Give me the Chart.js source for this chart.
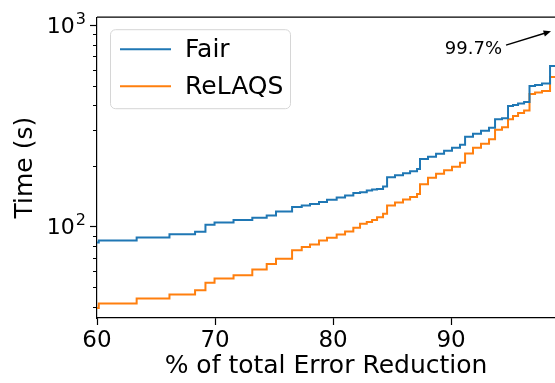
<!DOCTYPE html>
<html>
<head>
<meta charset="utf-8">
<script src="https://cdn.jsdelivr.net/npm/chart.js@4"></script>
<style>
  html, body { margin: 0; padding: 0; background: #fff; }
  canvas { display: block; }
</style>
</head>
<body>
<canvas id="chart" width="555" height="383"></canvas>
<script>
// % of total error reduction where each step starts
const errorReduction = [
  60.00, 60.15, 63.36, 66.14, 68.31, 69.19, 69.96, 71.57, 73.16, 74.38,
  75.17, 76.53, 77.35, 78.05, 78.81, 79.49, 80.31, 81.02, 81.72, 82.29,
  82.86, 83.31, 83.73, 84.24, 84.58, 85.25, 85.93, 86.53, 87.12, 87.37,
  88.05, 88.73, 89.41, 90.08, 90.76, 91.19, 91.86, 92.54, 93.22, 93.73,
  94.32, 94.83, 95.25, 95.68, 96.19, 96.65, 97.12, 97.71, 98.39, 98.90
];
// time (s)
const fairTime = [
  83.3, 85.2, 88.2, 91.6, 94.1, 102.0, 104.7, 107.7, 110.4, 113.4,
  118.7, 124.9, 127.0, 129.2, 132.5, 135.6, 139.2, 142.4, 146.5, 147.9,
  150.8, 152.5, 153.7, 157.8, 175.4, 179.9, 184.1, 188.3, 193.1, 216.3,
  222.1, 229.8, 237.8, 246.1, 254.7, 279.0, 288.7, 298.7, 309.1, 340.6,
  344.5, 397.2, 401.8, 408.7, 415.8, 498.9, 504.7, 513.4, 626.6, 633.9
];
const relaqsTime = [
  39.3, 41.4, 43.9, 45.9, 48.2, 52.5, 55.1, 57.2, 61.2, 65.1,
  69.1, 76.1, 79.0, 81.4, 85.2, 87.9, 91.3, 94.4, 98.5, 103.1,
  105.3, 107.7, 111.2, 115.6, 127.0, 131.5, 136.1, 140.0, 145.2, 162.3,
  174.8, 183.0, 190.4, 198.2, 207.4, 230.6, 246.1, 257.6, 271.2, 302.1,
  310.9, 340.6, 354.4, 366.7, 377.4, 455.3, 463.2, 471.2, 552.8, 559.1
];

const xTickValues = [60, 70, 80, 90];
const yTickValues = [40, 50, 60, 70, 80, 90, 100, 200, 300, 400, 500, 600, 700, 800, 900, 1000];
// labelled decades: base and exponent
const yTickExponents = { 100: "2", 1000: "3" };

// annotation: text position and arrow, in data units
const note = { text: "99.7%", x: 91.9, y: 760, fromX: 94.66, fromY: 796, toX: 98.47, toY: 933 };

const FONT = "'DejaVu Sans', sans-serif";

const frame = {
  id: "frame",
  afterDraw(chart) {
    const { ctx, chartArea: a, scales } = chart;
    ctx.save();
    ctx.strokeStyle = "#000";
    ctx.lineWidth = 1.2;
    ctx.beginPath();
    ctx.moveTo(a.left, a.top);
    ctx.lineTo(a.right, a.top);
    ctx.stroke();
    // minor ticks on log axis are shorter
    ctx.lineWidth = 1;
    const y = scales.y;
    y.ticks.forEach(t => {
      if (yTickExponents[t.value]) return;
      const py = Math.round(y.getPixelForValue(t.value)) + 0.5;
      ctx.beginPath();
      ctx.moveTo(a.left, py);
      ctx.lineTo(a.left - 4, py);
      ctx.stroke();
    });
    // decade labels as 10^n with a real superscript
    ctx.fillStyle = "#000";
    ctx.textBaseline = "alphabetic";
    ctx.textAlign = "right";
    y.ticks.forEach(t => {
      const exp = yTickExponents[t.value];
      if (!exp) return;
      const py = y.getPixelForValue(t.value);
      const right = a.left - 11;
      ctx.font = "16px " + FONT;
      const ew = ctx.measureText(exp).width;
      ctx.fillText(exp, right, py - 1);
      ctx.font = "22px " + FONT;
      ctx.fillText("10", right - ew - 1, py + 8);
    });
    ctx.restore();
  }
};

const legendBox = {
  id: "legendBox",
  afterDatasetsDraw(chart) {
    const { ctx, chartArea: a } = chart;
    const x0 = a.left + 13, y0 = a.top + 12, w = 180, h = 79;
    ctx.save();
    ctx.beginPath();
    ctx.roundRect(x0 + 0.5, y0 + 0.5, w, h, 5);
    ctx.fillStyle = "rgba(255,255,255,0.8)";
    ctx.fill();
    ctx.strokeStyle = "#d6d6d6";
    ctx.lineWidth = 1;
    ctx.stroke();
    ctx.font = "25px " + FONT;
    ctx.textBaseline = "middle";
    chart.data.datasets.forEach((ds, i) => {
      const ry = y0 + 20 + i * 37;
      ctx.strokeStyle = ds.borderColor;
      ctx.lineWidth = 2;
      ctx.beginPath();
      ctx.moveTo(x0 + 10, ry);
      ctx.lineTo(x0 + 61, ry);
      ctx.stroke();
      ctx.fillStyle = "#000";
      ctx.fillText(ds.label, x0 + 75, ry + 1);
    });
    ctx.restore();
  }
};

const arrowNote = {
  id: "arrowNote",
  afterDatasetsDraw(chart) {
    const { ctx, scales: { x, y } } = chart;
    ctx.save();
    ctx.font = "18px " + FONT;
    ctx.fillStyle = "#000";
    ctx.textAlign = "center";
    ctx.textBaseline = "middle";
    ctx.fillText(note.text, x.getPixelForValue(note.x), y.getPixelForValue(note.y));

    const x1 = x.getPixelForValue(note.fromX), y1 = y.getPixelForValue(note.fromY);
    const x2 = x.getPixelForValue(note.toX), y2 = y.getPixelForValue(note.toY);
    const ang = Math.atan2(y2 - y1, x2 - x1);
    ctx.strokeStyle = "#000";
    ctx.lineWidth = 1.5;
    ctx.beginPath();
    ctx.moveTo(x1, y1);
    ctx.lineTo(x2 - 5 * Math.cos(ang), y2 - 5 * Math.sin(ang));
    ctx.stroke();
    ctx.beginPath();
    ctx.moveTo(x2, y2);
    ctx.lineTo(x2 - 8 * Math.cos(ang - 0.4), y2 - 8 * Math.sin(ang - 0.4));
    ctx.lineTo(x2 - 8 * Math.cos(ang + 0.4), y2 - 8 * Math.sin(ang + 0.4));
    ctx.closePath();
    ctx.fill();
    ctx.restore();
  }
};

const toPoints = ys => errorReduction.map((v, i) => ({ x: v, y: ys[i] }));

new Chart(document.getElementById("chart"), {
  type: "line",
  data: {
    datasets: [
      {
        label: "Fair",
        data: toPoints(fairTime),
        borderColor: "#1f77b4",
        borderWidth: 2,
        stepped: true,
        pointRadius: 0,
        fill: false,
      },
      {
        label: "ReLAQS",
        data: toPoints(relaqsTime),
        borderColor: "#ff7f0e",
        borderWidth: 2,
        stepped: true,
        pointRadius: 0,
        fill: false,
      },
    ],
  },
  options: {
    responsive: false,
    animation: false,
    devicePixelRatio: 1,
    layout: { padding: { top: 16, right: 0, bottom: 0, left: 0 } },
    plugins: {
      legend: { display: false },
      tooltip: { enabled: false },
    },
    scales: {
      x: {
        type: "linear",
        min: 60,
        max: 98.81,
        afterBuildTicks: s => { s.ticks = xTickValues.map(v => ({ value: v })); },
        afterFit: s => { s.height = 65; },
        ticks: { font: { family: FONT, size: 23 }, color: "#000", padding: 2 },
        grid: { drawOnChartArea: false, tickLength: 7, tickColor: "#000", tickWidth: 1.2 },
        border: { color: "#000", width: 1.2 },
        title: {
          display: true,
          text: "% of total Error Reduction",
          font: { family: FONT, size: 25 },
          color: "#000",
          padding: { top: 0, bottom: 2 },
        },
      },
      y: {
        type: "logarithmic",
        min: 35.1,
        max: 1096,
        afterBuildTicks: s => { s.ticks = yTickValues.map(v => ({ value: v })); },
        afterFit: s => { s.width = 97; },
        ticks: {
          autoSkip: false,
          callback: () => "",
          font: { family: FONT, size: 22 },
          color: "#000",
          padding: 4,
        },
        grid: {
          drawOnChartArea: false,
          tickLength: 7,
          tickWidth: 1.2,
          tickColor: c => (c.tick && yTickExponents[c.tick.value] ? "#000" : "rgba(0,0,0,0)"),
        },
        border: { color: "#000", width: 1.2 },
        title: {
          display: true,
          text: "Time (s)",
          font: { family: FONT, size: 25 },
          color: "#000",
          padding: { top: 10, bottom: 0 },
        },
      },
    },
  },
  plugins: [frame, legendBox, arrowNote],
});
</script>
</body>
</html>
